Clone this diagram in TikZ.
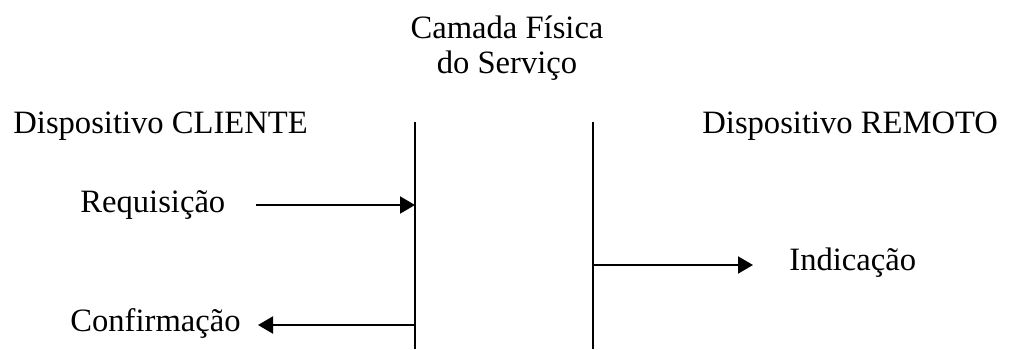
\documentclass[tikz,border=0pt]{standalone}
\usepackage{fontspec}
\setmainfont{Liberation Serif}
\usetikzlibrary{arrows.meta}
\tikzset{
  rotulo/.style={inner sep=0pt, font=\fontsize{16.3}{17.5}\selectfont},
  camada/.style={line width=1.3pt},
  mensagem/.style={line width=1pt, -{Triangle[length=7.5pt,width=8.5pt]}}
}
\begin{document}
\begin{tikzpicture}[x=0.5pt,y=-0.5pt]
      \useasboundingbox (0,0) rectangle (1010,349);
%
      \node[rotulo, anchor=base, align=center] (fisica) at (507,73) {Camada F\'isica\\do Servi\c{c}o};
      \node[rotulo, anchor=base west] (cliente) at (13,133) {Dispositivo CLIENTE};
      \node[rotulo, anchor=base west] (remoto) at (702,133) {Dispositivo REMOTO};
%
      \coordinate (linhaA) at (415,122);
      \coordinate (linhaAfim) at (415,349);
      \coordinate (linhaB) at (593,122);
      \coordinate (linhaBfim) at (593,349);
      \draw[camada] (linhaA) -- (linhaAfim);
      \draw[camada] (linhaB) -- (linhaBfim);
%
      \node[rotulo, anchor=base west] (requisicao) at (80,212) {Requisi\c{c}\~ao};
      \node[rotulo, anchor=base west] (indicacao) at (789,270) {Indica\c{c}\~ao};
      \node[rotulo, anchor=base west] (confirmacao) at (70,331) {Confirma\c{c}\~ao};
%
      \coordinate (req) at (256,205);
      \coordinate (ind) at (753,265);
      \coordinate (conf) at (258,325);
      \draw[mensagem] (req) -- (req -| linhaA);
      \draw[mensagem] (ind -| linhaB) -- (ind);
      \draw[mensagem] (conf -| linhaA) -- (conf);
%
\end{tikzpicture}
\end{document}
